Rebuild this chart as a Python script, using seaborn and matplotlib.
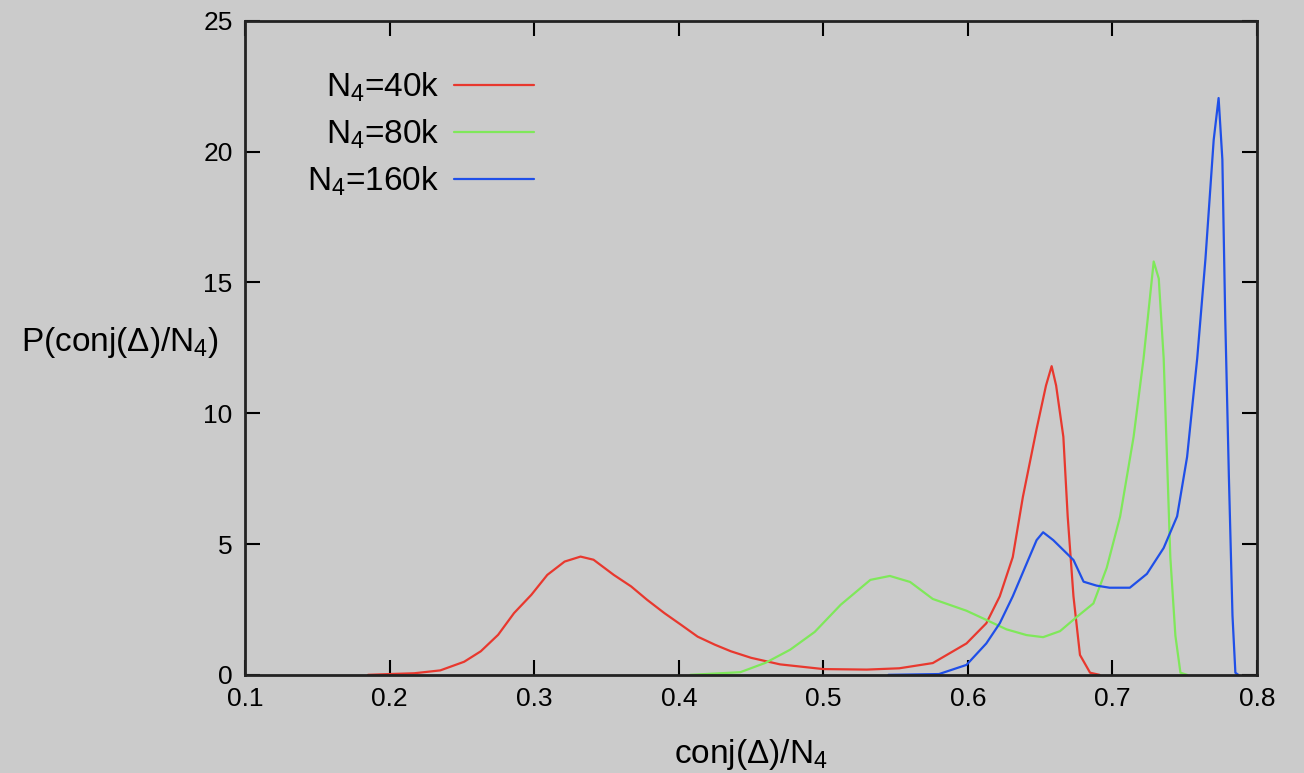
import numpy as np
import pandas as pd
import matplotlib
matplotlib.use("Agg")
import matplotlib.pyplot as plt
import seaborn as sns

# values
x_40k = [0.185, 0.20, 0.217, 0.235, 0.2515, 0.263, 0.275, 0.286, 0.298, 0.309,
         0.321, 0.332, 0.341, 0.355, 0.367, 0.378, 0.39, 0.4016, 0.413, 0.425,
         0.436, 0.45, 0.47, 0.50, 0.53, 0.5525, 0.5757, 0.599, 0.6127, 0.622,
         0.631, 0.638, 0.6475, 0.654, 0.6579, 0.661, 0.666, 0.669, 0.673,
         0.6775, 0.6845, 0.691]
p_40k = [0.0, 0.03, 0.06, 0.17, 0.5, 0.9, 1.53, 2.36, 3.06, 3.82,
         4.33, 4.52, 4.4, 3.82, 3.38, 2.87, 2.36, 1.91, 1.46, 1.15,
         0.9, 0.65, 0.4, 0.22, 0.2, 0.25, 0.45, 1.2, 1.97, 3.0,
         4.5, 6.8, 9.4, 11.06, 11.8, 11.06, 9.1, 6.06, 3.0,
         0.76, 0.08, 0.0]

x_80k = [0.408, 0.4425, 0.46, 0.477, 0.494, 0.512, 0.5325, 0.546, 0.56, 0.5757,
         0.599, 0.6127, 0.6266, 0.6405, 0.652, 0.6637, 0.675, 0.6868, 0.696,
         0.7053, 0.7146, 0.7215, 0.7285, 0.732, 0.7354, 0.7377, 0.74, 0.7435,
         0.747, 0.7516]
p_80k = [0.0, 0.1, 0.46, 0.96, 1.64, 2.68, 3.63, 3.78, 3.55, 2.9,
         2.45, 2.1, 1.74, 1.52, 1.44, 1.67, 2.2, 2.73, 4.09,
         6.06, 9.1, 12.1, 15.8, 15.15, 12.1, 8.3, 4.5, 1.5,
         0.08, 0.0]

x_160k = [0.545, 0.58, 0.599, 0.6127, 0.622, 0.631, 0.6405, 0.6475, 0.652, 0.659,
          0.666, 0.673, 0.68, 0.689, 0.698, 0.712, 0.7238, 0.7354, 0.7447,
          0.7516, 0.7586, 0.7643, 0.77, 0.7734, 0.776, 0.778, 0.7805, 0.783,
          0.785, 0.787]
p_160k = [0.0, 0.03, 0.38, 1.2, 1.97, 3.0, 4.24, 5.15, 5.45, 5.15,
          4.77, 4.39, 3.56, 3.41, 3.33, 3.33, 3.86, 4.85, 6.06,
          8.33, 12.1, 15.9, 20.45, 22.05, 19.7, 13.6, 7.6, 2.27,
          0.08, 0.0]

labels = [r"N$_4$=40k", r"N$_4$=80k", r"N$_4$=160k"]
colors = ["#e8382e", "#7fe85a", "#1f4fe8"]

df = pd.concat([
    pd.DataFrame({"x": x_40k, "p": p_40k, "series": labels[0]}),
    pd.DataFrame({"x": x_80k, "p": p_80k, "series": labels[1]}),
    pd.DataFrame({"x": x_160k, "p": p_160k, "series": labels[2]}),
])

bg = "#cbcbcb"
sns.set_theme(style="ticks")
plt.rcParams["font.family"] = ["Liberation Sans", "DejaVu Sans"]
plt.rcParams["mathtext.default"] = "regular"
plt.rcParams["text.color"] = "black"
plt.rcParams["axes.labelcolor"] = "black"

fig = plt.figure(figsize=(13.04, 7.73), dpi=100, facecolor=bg)
ax = fig.add_axes([0.188, 0.127, 0.776, 0.846])
ax.set_facecolor(bg)

sns.lineplot(data=df, x="x", y="p", hue="series", palette=colors,
             hue_order=labels, sort=False, estimator=None, linewidth=1.6, ax=ax)

ax.set_xlim(0.1, 0.8)
ax.set_ylim(0, 25)
ax.set_xticks([0.1, 0.2, 0.3, 0.4, 0.5, 0.6, 0.7, 0.8])
ax.set_xticklabels(["0.1", "0.2", "0.3", "0.4", "0.5", "0.6", "0.7", "0.8"])
ax.set_yticks([0, 5, 10, 15, 20, 25])
ax.tick_params(direction="in", top=True, right=True, length=11, width=1.5,
               labelsize=19, colors="black", pad=9)
for s in ax.spines.values():
    s.set_linewidth(2)
    s.set_color("#222222")

ax.set_xlabel(r"conj($\Delta$)/N$_4$", fontsize=24, va="center")
ax.xaxis.set_label_coords(0.5, -0.122)
ax.set_ylabel(r"P(conj($\Delta$)/N$_4$)", fontsize=24, rotation=0,
              ha="center", va="center")
ax.yaxis.set_label_coords(-0.1235, 0.508)

leg = ax.legend(loc="upper left", bbox_to_anchor=(0.048, 0.945), frameon=False,
                markerfirst=False, fontsize=24, handlelength=2.4,
                handletextpad=0.45, labelspacing=0.41, borderaxespad=0)
for t in leg.get_texts():
    t.set_ha("right")
leg._legend_box.align = "right"

fig.savefig("out.png", dpi=100, facecolor=bg)
